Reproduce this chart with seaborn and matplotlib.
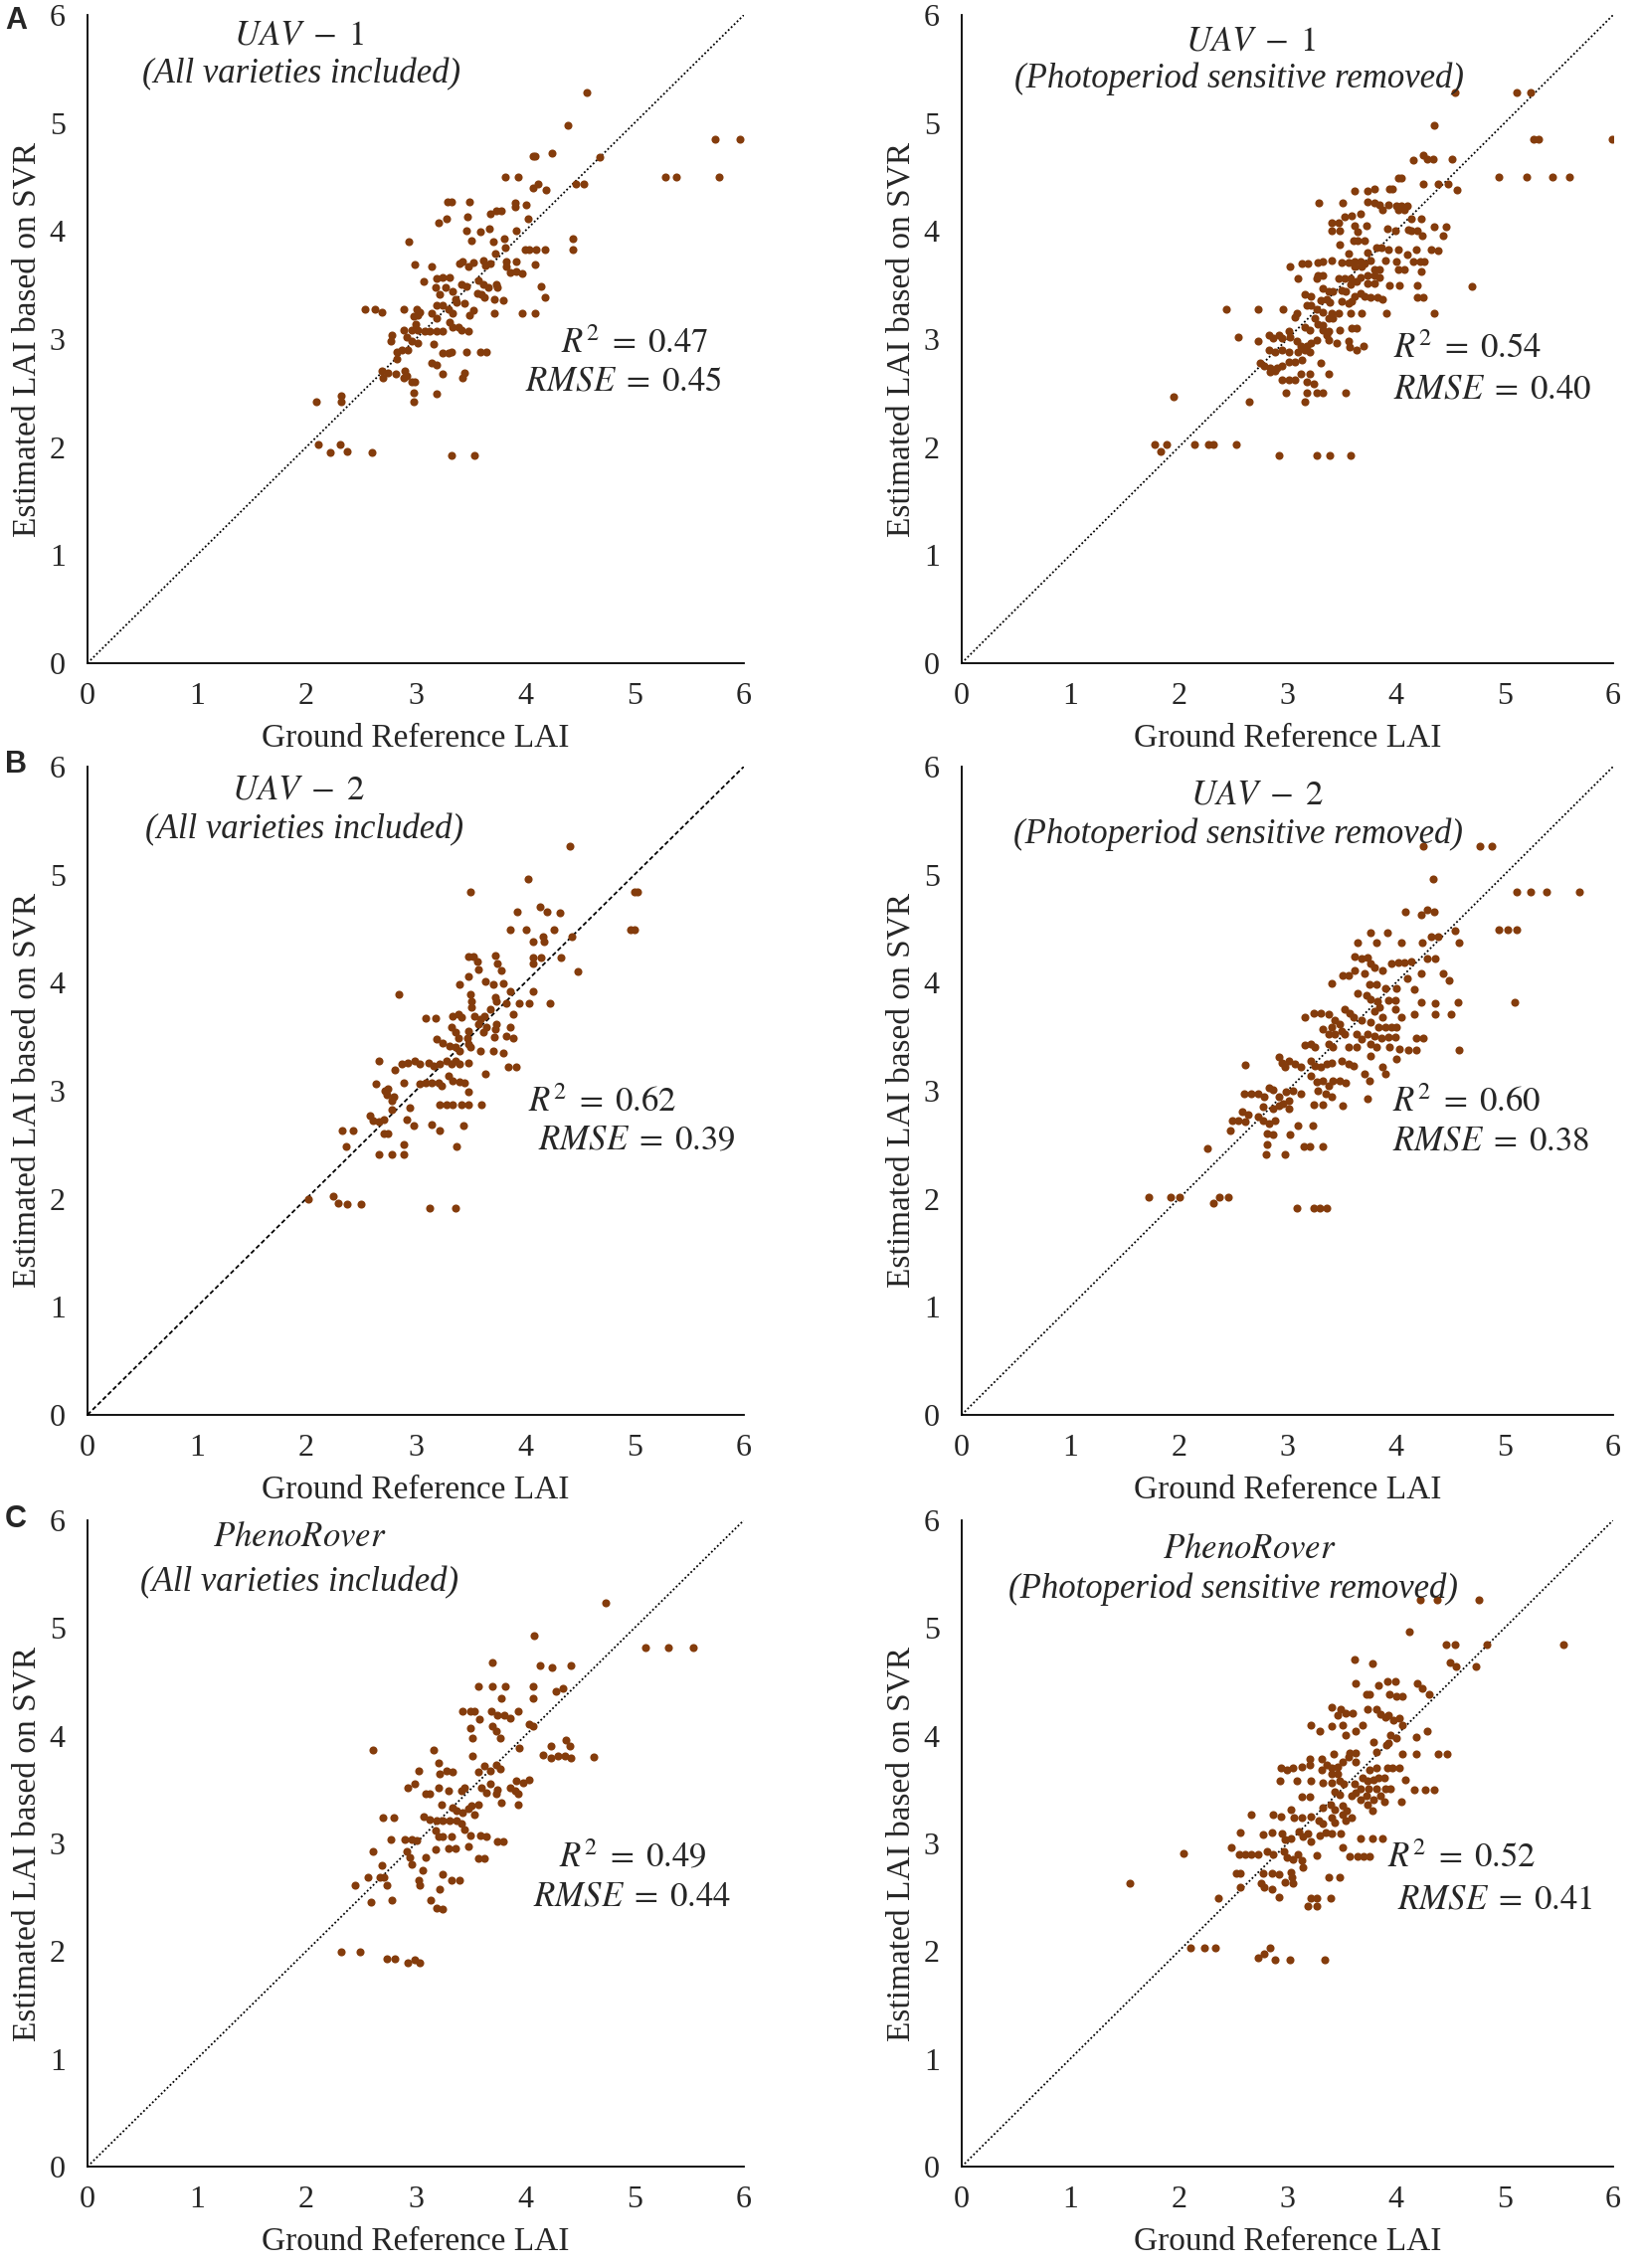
import matplotlib
matplotlib.use('Agg')
import matplotlib.pyplot as plt
import seaborn as sns
import pandas as pd

# ---- data (Ground Reference LAI vs SVR estimate) ----
uav1_all_x = [
    4.56, 4.39, 4.07, 4.09, 4.25, 4.68, 5.74, 5.96, 5.28, 5.38,
    5.77, 3.82, 3.94, 4.07, 4.12, 4.19, 4.46, 4.54, 3.29, 3.33,
    3.49, 3.68, 3.74, 3.78, 3.91, 3.91, 4.01, 3.21, 3.28, 3.47,
    4.03, 3.46, 3.59, 3.67, 3.92, 3.81, 2.94, 3.51, 3.71, 3.82,
    4.00, 4.04, 4.10, 4.18, 4.44, 4.44, 3.73, 3.62, 3.64, 3.40,
    3.43, 3.53, 3.48, 2.99, 3.15, 3.68, 3.83, 3.83, 3.92, 4.09,
    3.86, 3.92, 3.97, 3.19, 3.25, 3.31, 3.07, 3.18, 3.27, 3.42,
    3.46, 3.57, 3.62, 3.66, 3.74, 3.75, 4.15, 3.22, 3.34, 3.56,
    3.60, 3.63, 3.72, 3.80, 4.18, 2.54, 2.63, 2.69, 2.89, 3.01,
    3.04, 3.02, 3.19, 3.25, 3.30, 3.36, 3.37, 3.45, 3.53, 3.72,
    3.97, 4.09, 2.98, 3.00, 3.15, 3.19, 3.34, 3.49, 3.31, 3.34,
    2.89, 2.96, 3.02, 3.08, 3.13, 3.19, 3.25, 3.39, 3.42, 3.48,
    2.78, 2.77, 2.92, 2.96, 3.02, 3.16, 2.83, 2.87, 2.93, 3.25,
    3.30, 3.33, 3.46, 3.59, 3.65, 2.83, 3.15, 3.19, 3.25, 2.69,
    2.75, 2.82, 2.90, 2.92, 3.45, 3.43, 2.70, 2.89, 2.96, 2.99,
    2.98, 2.98, 3.19, 2.09, 2.32, 2.32, 2.11, 2.22, 2.31, 2.37,
    2.60, 3.33, 3.54]
uav1_all_y = [
    5.28, 4.98, 4.69, 4.69, 4.72, 4.68, 4.85, 4.85, 4.50, 4.50,
    4.50, 4.50, 4.50, 4.40, 4.44, 4.38, 4.44, 4.44, 4.27, 4.27,
    4.27, 4.16, 4.19, 4.19, 4.26, 4.22, 4.24, 4.08, 4.11, 4.13,
    4.11, 4.00, 3.99, 4.02, 4.00, 3.93, 3.90, 3.91, 3.90, 3.85,
    3.83, 3.83, 3.83, 3.83, 3.93, 3.83, 3.79, 3.73, 3.68, 3.70,
    3.72, 3.71, 3.67, 3.69, 3.67, 3.70, 3.72, 3.67, 3.72, 3.69,
    3.62, 3.63, 3.61, 3.56, 3.57, 3.57, 3.53, 3.48, 3.48, 3.51,
    3.49, 3.54, 3.51, 3.48, 3.51, 3.48, 3.49, 3.41, 3.44, 3.42,
    3.41, 3.39, 3.37, 3.36, 3.39, 3.28, 3.28, 3.25, 3.28, 3.28,
    3.25, 3.22, 3.31, 3.31, 3.28, 3.37, 3.34, 3.33, 3.27, 3.24,
    3.24, 3.24, 3.21, 3.14, 3.24, 3.19, 3.24, 3.22, 3.16, 3.11,
    3.08, 3.08, 3.08, 3.07, 3.07, 3.07, 3.07, 3.11, 3.08, 3.07,
    3.04, 2.98, 3.02, 2.98, 2.96, 2.95, 2.88, 2.90, 2.90, 2.87,
    2.87, 2.88, 2.88, 2.88, 2.88, 2.82, 2.78, 2.76, 2.68, 2.71,
    2.69, 2.68, 2.71, 2.66, 2.69, 2.64, 2.64, 2.64, 2.60, 2.60,
    2.50, 2.42, 2.49, 2.42, 2.48, 2.42, 2.02, 1.95, 2.02, 1.96,
    1.95, 1.92, 1.92]

uav1_removed_x = [
    4.54, 5.11, 5.24, 4.35, 5.27, 5.31, 5.99, 4.16, 4.25, 4.29,
    4.34, 4.52, 4.95, 5.20, 5.44, 5.60, 4.02, 4.05, 4.25, 4.39,
    4.48, 4.56, 3.62, 3.74, 3.80, 3.94, 3.97, 3.29, 3.51, 3.74,
    3.80, 3.85, 3.88, 3.93, 4.00, 4.05, 4.10, 4.02, 4.08, 3.53,
    3.59, 3.67, 3.41, 3.47, 3.62, 3.73, 3.92, 3.99, 4.14, 4.23,
    4.11, 4.14, 4.20, 4.35, 4.46, 3.41, 3.48, 3.65, 4.43, 4.24,
    3.61, 3.65, 3.71, 3.48, 3.82, 3.87, 3.93, 4.02, 4.19, 4.32,
    4.39, 3.74, 3.56, 4.10, 3.50, 3.56, 3.62, 3.67, 3.71, 3.77,
    3.90, 4.00, 4.16, 4.22, 4.26, 3.13, 3.19, 3.28, 3.33, 3.41,
    3.02, 3.62, 3.68, 3.80, 3.85, 4.02, 4.08, 4.23, 3.28, 3.33,
    3.27, 3.47, 3.53, 3.58, 3.67, 3.74, 3.80, 3.85, 3.10, 3.74,
    3.80, 3.64, 3.58, 3.94, 4.03, 4.20, 4.70, 3.33, 3.38, 3.42,
    3.50, 3.54, 3.16, 3.22, 3.62, 3.67, 3.71, 3.77, 3.83, 3.88,
    4.20, 4.25, 3.31, 3.36, 3.39, 3.50, 3.56, 3.59, 3.18, 3.22,
    3.27, 2.44, 2.73, 2.96, 3.09, 3.07, 3.33, 3.41, 3.47, 3.58,
    3.68, 3.91, 4.35, 3.25, 3.28, 3.33, 3.38, 3.42, 3.16, 3.21,
    3.33, 3.38, 3.36, 3.48, 3.59, 3.64, 2.55, 2.73, 2.83, 2.87,
    2.92, 2.95, 3.01, 3.02, 3.09, 3.12, 3.18, 3.22, 3.27, 3.38,
    3.45, 3.56, 3.57, 3.70, 3.64, 2.83, 2.89, 2.95, 3.01, 3.10,
    3.16, 3.21, 2.75, 2.79, 2.84, 2.90, 2.95, 3.01, 3.07, 3.13,
    3.31, 2.84, 2.89, 3.12, 3.21, 3.38, 2.95, 3.01, 3.07, 3.18,
    3.24, 2.99, 3.18, 3.27, 3.33, 3.54, 3.16, 1.95, 2.65, 1.78,
    1.83, 1.89, 2.14, 2.27, 2.32, 2.53, 2.92, 3.27, 3.39, 3.58]
uav1_removed_y = [
    5.28, 5.28, 5.28, 4.98, 4.85, 4.85, 4.85, 4.66, 4.70, 4.67,
    4.67, 4.67, 4.50, 4.50, 4.50, 4.50, 4.49, 4.49, 4.44, 4.44,
    4.44, 4.38, 4.37, 4.37, 4.39, 4.39, 4.39, 4.26, 4.26, 4.27,
    4.26, 4.24, 4.20, 4.24, 4.23, 4.23, 4.23, 4.20, 4.20, 4.13,
    4.14, 4.16, 4.08, 4.08, 4.05, 4.05, 4.02, 4.00, 4.11, 4.11,
    4.01, 4.00, 4.00, 4.04, 4.04, 4.00, 4.00, 3.99, 3.96, 3.96,
    3.91, 3.91, 3.91, 3.87, 3.85, 3.85, 3.83, 3.83, 3.83, 3.83,
    3.82, 3.80, 3.79, 3.78, 3.71, 3.71, 3.72, 3.72, 3.70, 3.73,
    3.73, 3.72, 3.72, 3.72, 3.72, 3.70, 3.70, 3.71, 3.72, 3.73,
    3.67, 3.67, 3.67, 3.64, 3.64, 3.64, 3.64, 3.63, 3.59, 3.59,
    3.56, 3.56, 3.56, 3.56, 3.57, 3.59, 3.59, 3.57, 3.56, 3.52,
    3.52, 3.53, 3.51, 3.50, 3.50, 3.50, 3.49, 3.47, 3.44, 3.44,
    3.45, 3.44, 3.41, 3.40, 3.40, 3.42, 3.40, 3.39, 3.39, 3.37,
    3.39, 3.39, 3.36, 3.37, 3.34, 3.35, 3.33, 3.35, 3.31, 3.31,
    3.28, 3.28, 3.28, 3.28, 3.24, 3.20, 3.25, 3.24, 3.24, 3.24,
    3.24, 3.24, 3.24, 3.19, 3.14, 3.13, 3.19, 3.19, 3.11, 3.08,
    3.08, 3.07, 3.04, 3.08, 3.10, 3.10, 3.02, 2.98, 3.04, 3.01,
    3.04, 3.01, 3.07, 3.02, 2.98, 2.94, 2.94, 2.96, 2.99, 2.99,
    2.96, 2.98, 2.93, 2.94, 2.90, 2.90, 2.88, 2.90, 2.88, 2.88,
    2.90, 2.88, 2.78, 2.75, 2.73, 2.73, 2.75, 2.79, 2.79, 2.81,
    2.78, 2.70, 2.71, 2.68, 2.68, 2.68, 2.62, 2.62, 2.62, 2.60,
    2.59, 2.50, 2.50, 2.50, 2.50, 2.50, 2.42, 2.47, 2.42, 2.02,
    1.96, 2.02, 2.02, 2.02, 2.02, 2.02, 1.92, 1.92, 1.92, 1.92]

uav2_all_x = [
    4.41, 4.03, 3.50, 5.00, 5.03, 3.93, 4.14, 4.20, 4.32, 3.86,
    4.01, 4.26, 4.96, 5.00, 4.16, 4.17, 4.07, 4.43, 3.48, 3.53,
    3.56, 3.57, 3.73, 3.75, 3.78, 4.07, 4.07, 4.15, 4.33, 4.48,
    3.48, 3.40, 3.64, 3.71, 3.80, 3.86, 4.07, 2.85, 3.50, 3.51,
    3.51, 3.73, 3.74, 3.83, 3.95, 4.04, 4.23, 3.68, 3.09, 3.18,
    3.34, 3.39, 3.42, 3.54, 3.59, 3.63, 3.89, 3.57, 3.65, 3.74,
    3.73, 3.86, 3.33, 3.36, 3.39, 3.48, 3.47, 3.62, 3.72, 3.83,
    3.89, 3.19, 3.25, 3.31, 3.36, 3.40, 3.48, 3.50, 3.59, 3.71,
    3.80, 2.66, 2.87, 2.93, 2.99, 3.04, 3.12, 3.16, 3.22, 3.28,
    3.33, 3.36, 3.40, 3.48, 2.81, 3.85, 3.92, 3.30, 3.34, 3.40,
    3.45, 3.64, 2.64, 2.89, 3.04, 3.09, 3.15, 3.21, 3.24, 2.75,
    2.74, 2.80, 2.78, 2.72, 3.48, 3.22, 3.28, 3.34, 3.42, 3.48,
    3.60, 2.95, 2.78, 2.58, 2.61, 2.66, 2.71, 2.92, 2.98, 3.15,
    3.22, 3.44, 2.33, 2.43, 2.71, 2.75, 2.36, 2.66, 2.78, 2.89,
    2.89, 3.37, 2.02, 2.25, 2.29, 2.37, 2.50, 3.13, 3.36]
uav2_all_y = [
    5.26, 4.96, 4.84, 4.84, 4.84, 4.66, 4.70, 4.66, 4.65, 4.49,
    4.49, 4.49, 4.49, 4.49, 4.43, 4.38, 4.38, 4.43, 4.24, 4.24,
    4.20, 4.12, 4.25, 4.18, 4.11, 4.23, 4.18, 4.23, 4.23, 4.10,
    4.06, 3.98, 4.01, 3.98, 3.99, 3.92, 3.92, 3.89, 3.89, 3.83,
    3.77, 3.86, 3.83, 3.81, 3.81, 3.81, 3.81, 3.75, 3.67, 3.67,
    3.69, 3.71, 3.68, 3.69, 3.66, 3.69, 3.71, 3.62, 3.59, 3.62,
    3.57, 3.59, 3.59, 3.54, 3.49, 3.55, 3.49, 3.54, 3.50, 3.51,
    3.49, 3.48, 3.44, 3.41, 3.40, 3.37, 3.43, 3.40, 3.37, 3.37,
    3.35, 3.28, 3.25, 3.26, 3.28, 3.25, 3.26, 3.23, 3.25, 3.28,
    3.25, 3.28, 3.25, 3.26, 3.19, 3.22, 3.22, 3.14, 3.09, 3.08,
    3.07, 3.16, 3.06, 3.07, 3.06, 3.07, 3.07, 3.07, 3.05, 3.02,
    2.96, 2.94, 2.91, 3.00, 2.99, 2.87, 2.87, 2.87, 2.87, 2.87,
    2.87, 2.84, 2.82, 2.77, 2.72, 2.71, 2.73, 2.73, 2.68, 2.69,
    2.63, 2.68, 2.63, 2.63, 2.60, 2.60, 2.48, 2.41, 2.41, 2.41,
    2.50, 2.48, 2.00, 2.02, 1.96, 1.95, 1.95, 1.91, 1.91]

uav2_removed_x = [
    4.25, 4.77, 4.88, 4.34, 5.11, 5.24, 5.39, 5.69, 4.09, 4.23,
    4.29, 4.35, 3.77, 3.92, 4.95, 5.03, 5.11, 3.65, 3.82, 4.05,
    4.24, 4.32, 4.39, 4.54, 4.58, 3.62, 3.68, 3.74, 3.77, 3.80,
    3.96, 4.02, 4.08, 4.14, 4.29, 4.36, 3.51, 3.56, 3.62, 3.71,
    3.88, 4.23, 4.43, 4.49, 3.41, 3.76, 3.82, 3.90, 4.00, 4.10,
    4.17, 3.65, 3.73, 3.77, 3.83, 3.93, 3.99, 4.23, 4.36, 4.57,
    5.09, 3.53, 3.57, 3.61, 3.80, 3.85, 3.99, 3.16, 3.24, 3.31,
    3.38, 3.44, 3.48, 3.41, 3.68, 3.77, 3.88, 4.05, 4.17, 4.36,
    4.51, 3.33, 3.38, 3.44, 3.50, 3.53, 3.64, 3.68, 3.74, 3.84,
    3.90, 3.96, 4.00, 3.80, 3.87, 3.93, 3.99, 4.19, 4.25, 3.16,
    3.22, 3.25, 3.38, 3.42, 3.56, 3.64, 3.77, 3.82, 3.94, 4.03,
    4.11, 4.19, 4.58, 2.92, 2.95, 2.98, 3.01, 3.07, 3.12, 3.22,
    3.25, 3.31, 3.36, 3.41, 3.50, 3.56, 3.61, 3.77, 4.00, 2.61,
    3.71, 3.76, 3.88, 3.90, 3.22, 3.27, 3.33, 3.38, 3.42, 3.48,
    3.54, 2.60, 2.67, 2.73, 2.79, 2.83, 2.87, 2.92, 2.96, 3.01,
    2.99, 3.05, 3.12, 3.28, 3.35, 3.41, 3.24, 3.33, 3.51, 3.74,
    2.78, 2.87, 2.92, 3.01, 2.58, 2.64, 2.49, 2.55, 2.61, 2.73,
    2.78, 2.83, 2.89, 3.10, 3.23, 2.47, 2.81, 2.87, 3.02, 3.15,
    3.21, 3.33, 2.26, 2.81, 2.80, 2.98, 1.72, 1.92, 2.01, 2.32,
    2.37, 2.46, 3.09, 3.24, 3.30, 3.36]
uav2_removed_y = [
    5.26, 5.26, 5.26, 4.96, 4.84, 4.84, 4.84, 4.84, 4.66, 4.63,
    4.67, 4.66, 4.46, 4.46, 4.49, 4.49, 4.49, 4.37, 4.37, 4.37,
    4.37, 4.43, 4.43, 4.48, 4.37, 4.24, 4.22, 4.23, 4.18, 4.14,
    4.18, 4.19, 4.19, 4.20, 4.22, 4.22, 4.07, 4.07, 4.11, 4.09,
    4.11, 4.09, 4.09, 4.02, 3.99, 3.98, 3.98, 3.95, 3.95, 4.04,
    3.94, 3.90, 3.88, 3.85, 3.83, 3.84, 3.84, 3.82, 3.81, 3.82,
    3.82, 3.75, 3.72, 3.68, 3.74, 3.77, 3.75, 3.68, 3.72, 3.72,
    3.71, 3.65, 3.62, 3.59, 3.65, 3.63, 3.68, 3.68, 3.71, 3.71,
    3.71, 3.57, 3.52, 3.52, 3.55, 3.52, 3.52, 3.48, 3.52, 3.59,
    3.59, 3.59, 3.59, 3.51, 3.49, 3.50, 3.50, 3.49, 3.49, 3.42,
    3.43, 3.40, 3.43, 3.40, 3.40, 3.40, 3.43, 3.40, 3.40, 3.39,
    3.38, 3.38, 3.38, 3.31, 3.26, 3.22, 3.28, 3.25, 3.22, 3.28,
    3.23, 3.22, 3.25, 3.26, 3.28, 3.25, 3.23, 3.32, 3.29, 3.24,
    3.16, 3.09, 3.22, 3.16, 3.14, 3.08, 3.09, 3.05, 3.09, 3.09,
    3.07, 2.97, 2.97, 2.97, 2.94, 3.03, 3.01, 2.94, 2.88, 2.91,
    2.99, 3.00, 2.97, 3.00, 2.97, 2.94, 2.87, 2.87, 2.86, 2.93,
    2.85, 2.83, 2.86, 2.83, 2.81, 2.78, 2.72, 2.72, 2.71, 2.76,
    2.72, 2.70, 2.72, 2.68, 2.68, 2.63, 2.60, 2.59, 2.59, 2.48,
    2.48, 2.48, 2.47, 2.50, 2.41, 2.41, 2.01, 2.01, 2.01, 1.96,
    2.01, 2.01, 1.91, 1.91, 1.91, 1.91]

pheno_all_x = [
    4.74, 4.08, 5.10, 5.31, 5.54, 3.70, 4.14, 4.25, 4.42, 3.57,
    3.70, 3.82, 4.07, 4.28, 4.35, 3.78, 4.07, 3.43, 3.50, 3.54,
    3.69, 3.75, 3.81, 3.86, 3.94, 3.58, 3.70, 3.74, 3.77, 4.04,
    4.07, 3.50, 3.52, 2.61, 3.16, 3.95, 4.24, 4.37, 4.41, 4.16,
    4.24, 4.30, 4.36, 4.42, 4.63, 3.52, 3.21, 3.03, 3.22, 3.28,
    3.34, 3.57, 3.63, 3.68, 3.74, 3.77, 2.93, 2.99, 3.09, 3.13,
    3.21, 3.30, 3.42, 3.45, 3.60, 3.65, 3.68, 3.75, 3.74, 3.86,
    3.92, 3.98, 4.04, 3.91, 3.94, 3.78, 3.94, 3.24, 3.34, 3.37,
    3.43, 3.48, 3.51, 3.54, 3.57, 2.70, 2.80, 3.07, 3.13, 3.19,
    3.25, 3.31, 3.37, 3.42, 3.45, 3.18, 3.21, 3.25, 3.33, 3.50,
    3.59, 3.65, 3.75, 3.80, 2.77, 2.90, 2.96, 3.01, 3.30, 3.36,
    3.18, 3.48, 2.61, 2.92, 2.95, 2.96, 3.09, 3.57, 3.63, 2.69,
    3.06, 2.56, 2.67, 2.71, 3.25, 3.33, 3.40, 3.03, 3.04, 2.45,
    2.74, 3.22, 2.59, 2.78, 3.14, 3.19, 3.25, 2.32, 2.49, 2.74,
    2.81, 2.93, 2.99, 3.04]
pheno_all_y = [
    5.23, 4.93, 4.82, 4.82, 4.82, 4.68, 4.65, 4.63, 4.65, 4.46,
    4.46, 4.46, 4.46, 4.41, 4.44, 4.35, 4.35, 4.23, 4.23, 4.23,
    4.23, 4.19, 4.19, 4.16, 4.23, 4.15, 4.09, 4.04, 3.98, 4.11,
    4.09, 4.07, 3.98, 3.87, 3.87, 3.89, 3.90, 3.96, 3.90, 3.82,
    3.79, 3.81, 3.81, 3.79, 3.80, 3.81, 3.75, 3.67, 3.65, 3.67,
    3.66, 3.66, 3.72, 3.67, 3.73, 3.69, 3.52, 3.55, 3.46, 3.46,
    3.52, 3.49, 3.49, 3.52, 3.52, 3.47, 3.55, 3.50, 3.46, 3.52,
    3.58, 3.56, 3.59, 3.49, 3.46, 3.38, 3.36, 3.36, 3.33, 3.30,
    3.29, 3.32, 3.35, 3.27, 3.36, 3.24, 3.24, 3.25, 3.22, 3.21,
    3.21, 3.21, 3.21, 3.18, 3.13, 3.12, 3.06, 3.06, 3.06, 3.07,
    3.07, 3.06, 3.02, 3.02, 3.04, 3.04, 3.04, 3.03, 2.95, 2.95,
    2.94, 2.97, 2.93, 2.93, 2.87, 2.81, 2.87, 2.86, 2.86, 2.80,
    2.75, 2.69, 2.69, 2.69, 2.71, 2.66, 2.66, 2.66, 2.61, 2.61,
    2.61, 2.58, 2.46, 2.47, 2.47, 2.40, 2.39, 1.99, 1.99, 1.93,
    1.93, 1.89, 1.92, 1.89]

pheno_removed_x = [
    4.22, 4.38, 4.76, 4.12, 4.46, 4.54, 4.84, 5.54, 3.62, 3.78,
    4.50, 4.55, 4.74, 3.63, 3.84, 3.92, 3.99, 4.20, 4.24, 4.31,
    3.73, 3.76, 3.94, 4.00, 4.06, 3.41, 3.49, 3.46, 3.54, 3.60,
    3.74, 3.82, 3.86, 3.90, 3.93, 3.98, 4.03, 4.06, 3.22, 3.41,
    3.51, 3.30, 3.54, 3.63, 3.69, 3.95, 4.00, 4.19, 4.29, 3.93,
    3.91, 3.79, 4.06, 4.19, 4.39, 4.47, 3.43, 3.57, 3.63, 3.82,
    3.21, 3.32, 3.36, 3.41, 3.46, 3.51, 3.56, 3.63, 2.94, 3.00,
    3.05, 3.13, 3.21, 3.32, 3.41, 3.46, 3.76, 3.82, 3.92, 3.97,
    4.03, 3.69, 3.74, 3.79, 3.84, 3.89, 2.93, 3.09, 3.22, 3.33,
    3.41, 3.48, 3.52, 3.62, 3.67, 3.75, 3.82, 3.90, 3.95, 4.09,
    4.17, 4.27, 4.35, 3.44, 3.48, 3.59, 3.63, 3.67, 3.73, 3.79,
    3.86, 3.89, 3.13, 3.21, 3.33, 3.40, 3.44, 3.51, 3.55, 3.74,
    3.78, 4.05, 2.67, 2.87, 2.94, 3.03, 3.06, 3.13, 3.22, 3.29,
    3.33, 3.41, 3.44, 3.51, 3.54, 3.59, 2.57, 2.78, 2.86, 2.95,
    2.98, 3.03, 3.11, 3.14, 3.19, 3.22, 3.30, 3.35, 3.41, 3.49,
    3.67, 3.78, 3.88, 2.04, 2.48, 2.56, 2.61, 2.67, 2.73, 2.81,
    2.87, 2.97, 3.00, 3.05, 3.10, 3.13, 3.14, 3.27, 3.51, 3.57,
    3.65, 3.70, 3.76, 2.53, 2.57, 2.78, 2.86, 2.92, 3.03, 3.04,
    2.98, 3.38, 3.48, 1.55, 2.76, 2.79, 2.86, 3.05, 2.57, 2.36,
    2.92, 3.22, 3.27, 3.40, 3.19, 3.27, 2.11, 2.24, 2.34, 2.73,
    2.79, 2.84, 2.89, 3.02, 3.34]
pheno_removed_y = [
    5.26, 5.26, 5.26, 4.97, 4.85, 4.85, 4.85, 4.85, 4.71, 4.67,
    4.68, 4.64, 4.64, 4.49, 4.47, 4.50, 4.50, 4.49, 4.44, 4.38,
    4.38, 4.38, 4.38, 4.37, 4.37, 4.26, 4.25, 4.19, 4.21, 4.21,
    4.25, 4.25, 4.20, 4.17, 4.19, 4.14, 4.16, 4.10, 4.10, 4.09,
    4.10, 4.04, 4.01, 4.04, 4.10, 4.01, 3.98, 3.99, 4.04, 3.93,
    3.91, 3.94, 3.83, 3.83, 3.83, 3.83, 3.83, 3.84, 3.84, 3.85,
    3.78, 3.78, 3.73, 3.70, 3.71, 3.76, 3.80, 3.76, 3.70, 3.68,
    3.70, 3.71, 3.73, 3.68, 3.65, 3.65, 3.68, 3.70, 3.70, 3.70,
    3.70, 3.61, 3.58, 3.59, 3.61, 3.61, 3.58, 3.58, 3.58, 3.56,
    3.56, 3.58, 3.55, 3.55, 3.51, 3.51, 3.51, 3.51, 3.51, 3.59,
    3.50, 3.50, 3.50, 3.48, 3.45, 3.44, 3.47, 3.41, 3.44, 3.41,
    3.44, 3.39, 3.43, 3.43, 3.33, 3.36, 3.31, 3.35, 3.30, 3.36,
    3.30, 3.39, 3.27, 3.27, 3.25, 3.31, 3.24, 3.24, 3.25, 3.21,
    3.18, 3.24, 3.19, 3.27, 3.21, 3.24, 3.10, 3.08, 3.10, 3.09,
    3.04, 3.05, 3.11, 3.06, 3.09, 3.02, 3.07, 3.10, 3.09, 3.09,
    3.05, 3.05, 3.05, 2.91, 2.96, 2.90, 2.90, 2.90, 2.90, 2.93,
    2.90, 2.93, 2.87, 2.85, 2.90, 2.84, 2.78, 2.89, 2.96, 2.88,
    2.88, 2.88, 2.88, 2.72, 2.72, 2.72, 2.72, 2.71, 2.73, 2.69,
    2.64, 2.69, 2.69, 2.63, 2.63, 2.59, 2.58, 2.63, 2.59, 2.49,
    2.50, 2.49, 2.49, 2.49, 2.42, 2.42, 2.03, 2.03, 2.03, 1.94,
    1.98, 2.03, 1.92, 1.92, 1.92]

platforms = [r'$UAV\;-\;1$', r'$UAV\;-\;2$', r'$PhenoRover$']
subsets = ['(All varieties included)', '(Photoperiod sensitive removed)']
r2_values = ['0.47', '0.54', '0.62', '0.60', '0.49', '0.52']
rmse_values = ['0.45', '0.40', '0.39', '0.38', '0.44', '0.41']
panel_letters = ['A', 'B', 'C']
tick_values = [0, 1, 2, 3, 4, 5, 6]
one_to_one = [0, 6]

sns.set_style('white')
plt.rcParams['font.family'] = ['Liberation Serif', 'DejaVu Serif']
plt.rcParams['mathtext.fontset'] = 'stix'

DOT = '#843C0C'

fig = plt.figure(figsize=(16.5, 22.81), dpi=100)

# axes rectangles in figure fractions: columns x rows
col_left = [0.0533, 0.586]
col_width = [0.400, 0.397]
row_bottom = [0.7076, 0.3762, 0.0447]
row_height = [0.2858, 0.2858, 0.2850]

panels = [
    (uav1_all_x, uav1_all_y), (uav1_removed_x, uav1_removed_y),
    (uav2_all_x, uav2_all_y), (uav2_removed_x, uav2_removed_y),
    (pheno_all_x, pheno_all_y), (pheno_removed_x, pheno_removed_y),
]

# title / stats text anchors (data coords) per panel
title_pos = [((1.93, 5.81), (1.96, 5.45)), ((2.66, 5.75), (2.56, 5.41)),
             ((1.93, 5.78), (1.98, 5.41)), ((2.72, 5.73), (2.55, 5.37)),
             ((1.94, 5.84), (1.94, 5.42)), ((2.65, 5.73), (2.50, 5.36))]
stats_pos = [((4.33, 2.95), (4.00, 2.60)), ((3.98, 2.90), (3.98, 2.53)),
             ((4.03, 2.88), (4.12, 2.53)), ((3.97, 2.88), (3.97, 2.53)),
             ((4.31, 2.87), (4.07, 2.50)), ((3.92, 2.86), (4.01, 2.47))]


def draw_panel(i):
    r, c = divmod(i, 2)
    ax = fig.add_axes([col_left[c], row_bottom[r], col_width[c], row_height[r]])
    xs, ys = panels[i]
    df = pd.DataFrame({'ground': xs, 'svr': ys})

    # 1:1 reference line
    ls = (0, (2.5, 1.5)) if i == 2 else (0, (1, 1.3))
    ax.plot(one_to_one, one_to_one, color='black', lw=1.3, ls=ls, zorder=1)
    sns.scatterplot(data=df, x='ground', y='svr', ax=ax, color=DOT, s=34,
                    linewidth=0, legend=False, zorder=3)

    ax.set_xlim(0, 6)
    ax.set_ylim(0, 6)
    ax.set_xticks(tick_values)
    ax.set_yticks(tick_values)
    ax.tick_params(axis='both', length=0, labelsize=23)
    ax.tick_params(axis='y', pad=16)
    ax.tick_params(axis='x', pad=14)
    for s in ['top', 'right']:
        ax.spines[s].set_visible(False)
    for s in ['left', 'bottom']:
        ax.spines[s].set_color('black')
        ax.spines[s].set_linewidth(1.3)
    ax.set_xlabel('Ground Reference LAI', fontsize=24, labelpad=9)
    ax.set_ylabel('Estimated LAI based on SVR', fontsize=24, labelpad=5)

    (t1, t2) = title_pos[i]
    ax.text(*t1, platforms[r], fontsize=25, ha='center', va='center')
    ax.text(*t2, subsets[c], fontsize=25, style='italic', ha='center', va='center')

    (s1, s2) = stats_pos[i]
    ax.text(*s1, r'$R^2\;=\;' + r2_values[i] + '$', fontsize=25, ha='left', va='center')
    ax.text(*s2, r'$RMSE\;=\;' + rmse_values[i] + '$', fontsize=25, ha='left', va='center')
    return ax


for i in range(6):
    draw_panel(i)

letter_y = [0.991, 0.663, 0.330]
for letter, y in zip(panel_letters, letter_y):
    fig.text(0.003, y, letter, fontsize=22, fontweight='bold', ha='left', va='center',
             family=['Liberation Sans', 'DejaVu Sans'])

fig.savefig('out.png', dpi=100)
